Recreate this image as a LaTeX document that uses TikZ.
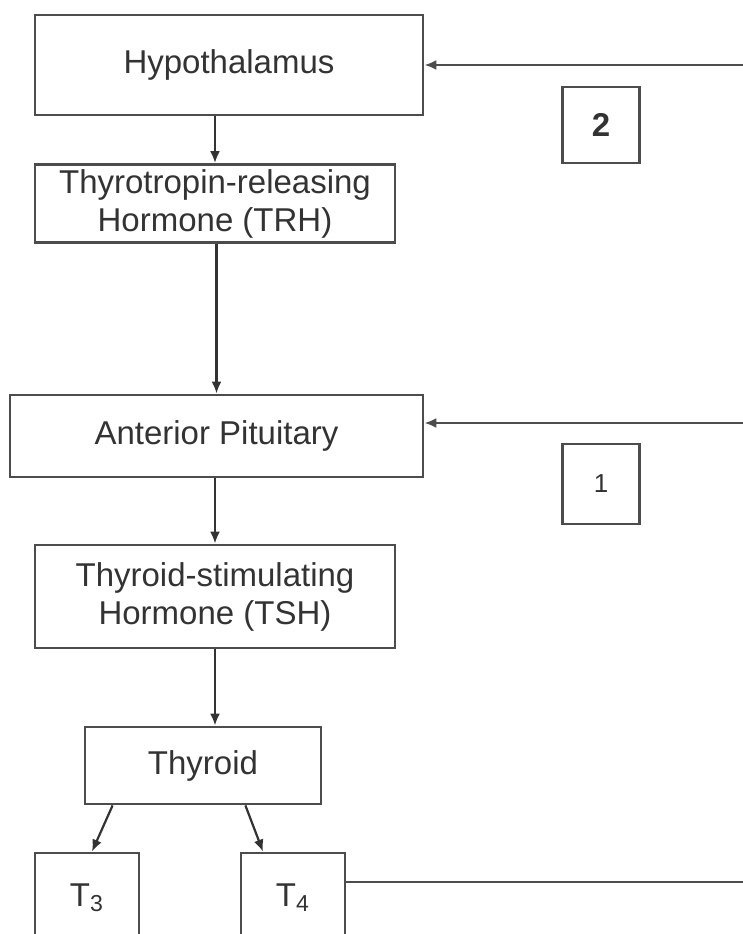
\documentclass[tikz,border=0pt]{standalone}
\usepackage{fontspec}
\setmainfont{Liberation Sans}
\usetikzlibrary{arrows.meta,calc,positioning}

\begin{document}
\begin{tikzpicture}[x=0.5pt,y=-0.5pt,>=Latex,
  box/.style={draw=black!70,line width=1.4pt,align=center,inner sep=0pt,text=black!80,font=\fontsize{16.5}{19}\selectfont},
  numbox/.style={box,minimum width=38.5pt,minimum height=38pt},
  tbox/.style={box,minimum width=52pt,minimum height=45pt},
  arr/.style={-{Latex[length=6pt,width=5pt]},line width=1.1pt,black!80},
  fb/.style={line width=1.2pt,black!70}]
\useasboundingbox (0,0) rectangle (743,934);
\node[box,minimum width=194pt,minimum height=50pt] (hyp) at (229,65) {Hypothalamus};
\node[box,minimum width=180pt,minimum height=39pt] (trh) at (215,203.5) {Thyrotropin-releasing\\Hormone (TRH)};
\node[box,minimum width=206.5pt,minimum height=41pt] (ant) at (216.5,436) {Anterior Pituitary};
\node[box,minimum width=180pt,minimum height=51.5pt] (tsh) at (215,596.5) {Thyroid-stimulating\\Hormone (TSH)};
\node[box,minimum width=118pt,minimum height=38.5pt] (thy) at (203,765.5) {Thyroid};
\node[tbox] (tthree) at (87,898) {T\textsubscript{3}};
\node[tbox] (tfour) at (293,898) {T\textsubscript{4}};
\node[numbox,font=\bfseries\fontsize{16.5}{19}\selectfont] (two) at (601,125) {2};
\node[numbox,minimum height=40pt,font=\fontsize{13}{15}\selectfont] (one) at (601,484) {1};
% feedback loop ends at the right border
\coordinate (fbtop) at (743,65);
\coordinate (fbmid) at (743,423);
\coordinate (fbout) at (743,882);
\draw[arr] (hyp.south -| trh.north)--(trh.north);
\draw[arr] (trh.south -| ant.north)--(ant.north);
\draw[arr] (ant.south -| tsh.north)--(tsh.north);
\draw[arr] (tsh.south)--(tsh.south |- thy.north);
\draw[arr] ([xshift=14.5pt]thy.south west)--([xshift=2.5pt]tthree.north);
\draw[arr] ([xshift=-38.5pt]thy.south east)--([xshift=-15pt]tfour.north);
\draw[arr,black!70,line width=1.2pt] (fbtop)--(hyp.east |- fbtop);
\draw[arr,black!70,line width=1.2pt] (fbmid)--(ant.east |- fbmid);
\draw[fb] (tfour.east |- fbout)--(fbout);
\end{tikzpicture}
\end{document}
